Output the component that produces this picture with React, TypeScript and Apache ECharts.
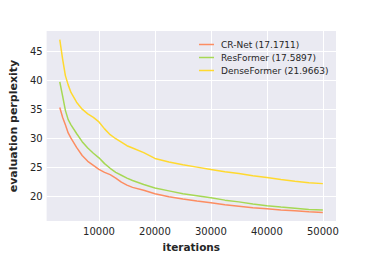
import React, { useEffect, useRef } from "react";
import * as echarts from "echarts";

const iterations = [3000, 3500, 4000, 4500, 5000, 6000, 7000, 8000, 9000, 10000, 11000, 12000, 13000, 14000, 15000, 16000, 18000, 20000, 22500, 25000, 27500, 30000, 32500, 35000, 37500, 40000, 42500, 45000, 47500, 50000];
const crNet = [35.3, 33.6, 32.3, 30.9, 30.0, 28.4, 27.0, 26.0, 25.3, 24.6, 24.1, 23.7, 23.1, 22.4, 21.9, 21.5, 21.0, 20.4, 19.9, 19.5, 19.15, 18.85, 18.5, 18.25, 18.0, 17.8, 17.6, 17.45, 17.3, 17.17];
const resFormer = [39.7, 37.3, 34.8, 33.2, 32.3, 30.8, 29.4, 28.3, 27.4, 26.6, 25.6, 24.8, 24.1, 23.6, 23.1, 22.7, 22.0, 21.4, 20.9, 20.4, 20.05, 19.7, 19.3, 19.0, 18.65, 18.35, 18.1, 17.9, 17.7, 17.59];
const denseFormer = [47.0, 43.7, 40.8, 39.2, 37.9, 36.2, 35.0, 34.2, 33.6, 32.8, 31.6, 30.6, 29.9, 29.3, 28.7, 28.3, 27.5, 26.5, 25.9, 25.4, 25.0, 24.6, 24.2, 23.9, 23.5, 23.2, 22.85, 22.55, 22.3, 22.15];
const seriesNames = ["CR-Net (17.1711)", "ResFormer (17.5897)", "DenseFormer (21.9663)"];
const seriesColors = ["#fc8d62", "#a6d854", "#ffd92f"];
const xTicks = [10000, 20000, 30000, 40000, 50000];
const yTicks = [20, 25, 30, 35, 40, 45];

export default function App() {
  const ref = useRef<HTMLDivElement>(null);
  useEffect(() => {
    if (!ref.current) return;
    const chart = echarts.init(ref.current, undefined, { renderer: "svg" });
    const values = [crNet, resFormer, denseFormer];
    const font = "DejaVu Sans";
    chart.setOption({
      animation: false,
      backgroundColor: "#ffffff",
      grid: { left: 46, top: 31, right: 37, bottom: 29, show: true, backgroundColor: "#eaeaf2", borderWidth: 0 },
      legend: {
        orient: "vertical",
        left: 194,
        top: 34,
        itemWidth: 19,
        itemHeight: 1.5,
        itemGap: 2,
        icon: "path://M0,0 L20,0 L20,2 L0,2 Z",
        textStyle: { fontFamily: font, fontSize: 9, color: "#262626", lineHeight: 11 },
        data: seriesNames,
      },
      xAxis: {
        type: "value",
        min: 650,
        max: 52350,
        name: "iterations",
        nameLocation: "middle",
        nameGap: 17,
        nameTextStyle: { fontFamily: font, fontSize: 10.5, fontWeight: "bold", color: "#262626" },
        axisLine: { show: false },
        axisTick: { show: false, customValues: xTicks },
        axisLabel: { customValues: xTicks, formatter: (v: number) => String(v), fontFamily: font, fontSize: 10, color: "#262626", margin: 5 },
        splitLine: { show: true, lineStyle: { color: "#ffffff", width: 1 } },
      },
      yAxis: {
        type: "value",
        min: 15.68,
        max: 48.5,
        name: "evaluation perplexity",
        nameLocation: "middle",
        nameGap: 19,
        nameTextStyle: { fontFamily: font, fontSize: 11, fontWeight: "bold", color: "#262626" },
        axisLine: { show: false },
        axisTick: { show: false, customValues: yTicks },
        axisLabel: { customValues: yTicks, formatter: (v: number) => String(v), fontFamily: font, fontSize: 10, color: "#262626", margin: 4 },
        splitLine: { show: true, lineStyle: { color: "#ffffff", width: 1 } },
      },
      series: seriesNames.map((name, i) => ({
        name,
        type: "line",
        symbol: "none",
        color: seriesColors[i],
        lineStyle: { width: 1.5, color: seriesColors[i] },
        data: iterations.map((x, j) => [x, values[i][j]]),
      })),
    });
    return () => chart.dispose();
  }, []);
  return <div ref={ref} style={{ width: 373, height: 257, position: "absolute", left: 0, top: 0 }} />;
}
